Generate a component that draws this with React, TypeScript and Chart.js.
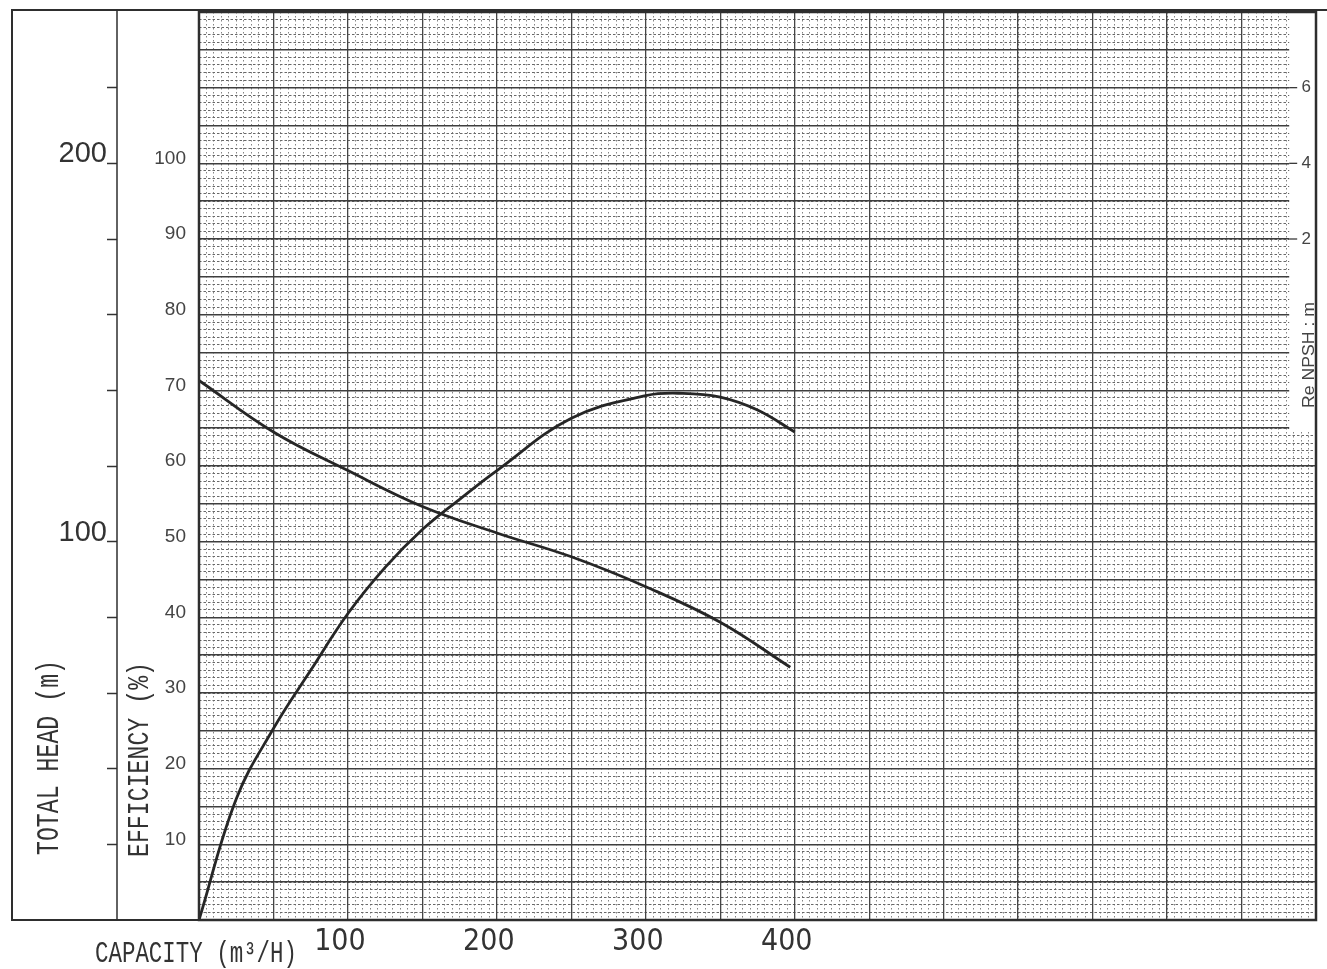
import React, { useEffect, useRef } from 'react';
import { Chart, registerables } from 'chart.js';

Chart.register(...registerables);

// ---- data ----
const headQ = [0, 50, 100, 150, 200, 250, 300, 350, 397];
const headM = [142.6, 129.0, 118.8, 109.3, 102.3, 96.0, 88.1, 78.7, 66.8];

const effQ = [0, 25, 50, 75, 100, 125, 150, 175, 200, 250, 300, 325, 350, 375, 400];
const effPct = [0, 16.0, 25.3, 33.0, 40.5, 46.6, 51.6, 55.6, 59.4, 66.3, 69.3, 69.6, 69.1, 67.4, 64.5];

const capacityTicks = [100, 200, 300, 400];
const headTicks = [20, 40, 60, 80, 100, 120, 140, 160, 180, 200, 220];
const headLabelled = [100, 200];
const effTicks = [10, 20, 30, 40, 50, 60, 70, 80, 90, 100];
const npshTicks = [2, 4, 6];

const capMax = 750;
const headMax = 240;
const effMax = 120;
const npshMin = -16;
const npshMax = 8;
const npshBoxFromQ = 732;
const npshBoxDownToHead = 129;

const headTitle = 'TOTAL HEAD (m)';
const effTitle = 'EFFICIENCY (%)';
const capTitle = 'CAPACITY (m\u00B3/H)';
const npshTitle = 'Re NPSH : m';

const NUM_FONT = "'Liberation Sans', Arial, sans-serif";
const NARROW_FONT = "'Liberation Sans Narrow', 'DejaVu Sans Condensed', 'Liberation Sans', sans-serif";
const TITLE_FONT = "'Liberation Mono', 'DejaVu Sans Mono', monospace";

const gridTicks = (max: number, step: number) => {
  const t: { value: number }[] = [];
  for (let v = 0; v <= max + 1e-9; v += step) t.push({ value: Math.round(v * 1000) / 1000 });
  return t;
};

const zeroPad = (s: any) => {
  s.paddingTop = 0;
  s.paddingBottom = 0;
  s.paddingLeft = 0;
  s.paddingRight = 0;
};

const gridScale = (
  axis: 'x' | 'y',
  position: string,
  max: number,
  step: number,
  color: string,
  width: number,
  dash: number[],
  z: number
) => ({
  type: 'linear',
  axis,
  position,
  min: 0,
  max,
  weight: 0,
  afterBuildTicks: (s: any) => {
    s.ticks = gridTicks(max, step);
  },
  afterFit: (s: any) => {
    if (axis === 'x') s.height = 0;
    else s.width = 0;
    zeroPad(s);
  },
  ticks: { display: false, autoSkip: false },
  grid: { color, lineWidth: width, drawTicks: false, z },
  border: { display: false, dash },
});

function stretchedText(
  ctx: CanvasRenderingContext2D,
  text: string,
  x: number,
  y: number,
  rot: number,
  font: string,
  targetWidth: number,
  targetCap: number
) {
  ctx.save();
  ctx.font = font;
  const w = ctx.measureText(text).width;
  const cap = ctx.measureText('H').actualBoundingBoxAscent || 1;
  ctx.translate(x, y);
  ctx.rotate(rot);
  ctx.scale(targetWidth / w, targetCap / cap);
  ctx.textAlign = 'left';
  ctx.textBaseline = 'alphabetic';
  ctx.fillText(text, 0, 0);
  ctx.restore();
}

const decor = {
  id: 'decor',
  beforeDatasetsDraw(chart: any) {
    const { ctx, chartArea: a, scales } = chart;
    const x0 = scales.x.getPixelForValue(npshBoxFromQ);
    const y1 = scales.yHead.getPixelForValue(npshBoxDownToHead);
    ctx.save();
    ctx.fillStyle = '#ffffff';
    ctx.fillRect(x0, a.top, a.right - x0, y1 - a.top);
    ctx.strokeStyle = '#3a3a3a';
    ctx.lineWidth = 1.3;
    npshTicks.forEach((v) => {
      const y = scales.npsh.getPixelForValue(v);
      ctx.beginPath();
      ctx.moveTo(x0, y);
      ctx.lineTo(x0 + 8, y);
      ctx.stroke();
    });
    ctx.restore();
  },
  afterDraw(chart: any) {
    const { ctx, chartArea: a } = chart;
    ctx.save();
    ctx.strokeStyle = '#2e2e2e';
    ctx.lineCap = 'square';
    // outer frame of the sheet
    ctx.lineWidth = 2;
    ctx.beginPath();
    ctx.moveTo(12, 10);
    ctx.lineTo(1327, 10);
    ctx.moveTo(12, 10);
    ctx.lineTo(12, a.bottom);
    ctx.lineTo(a.left, a.bottom);
    ctx.stroke();
    ctx.lineWidth = 1.5;
    ctx.beginPath();
    ctx.moveTo(117, 10);
    ctx.lineTo(117, a.bottom);
    ctx.stroke();
    // plot frame
    ctx.lineWidth = 2.5;
    ctx.strokeRect(a.left, a.top, a.right - a.left, a.bottom - a.top);

    ctx.fillStyle = '#333333';
    stretchedText(ctx, capTitle, 95, 962, 0, `22px ${TITLE_FONT}`, 202, 20);
    stretchedText(ctx, headTitle, 58, 855, -Math.PI / 2, `22px ${TITLE_FONT}`, 195, 21);
    stretchedText(ctx, effTitle, 148, 857, -Math.PI / 2, `22px ${TITLE_FONT}`, 195, 20);
    ctx.fillStyle = '#444444';
    stretchedText(ctx, npshTitle, 1314, 408, -Math.PI / 2, `17px ${NUM_FONT}`, 106, 12);
    ctx.restore();
  },
};

export default function App() {
  const ref = useRef<HTMLCanvasElement>(null);

  useEffect(() => {
    if (!ref.current) return;
    const chart = new Chart(ref.current, {
      type: 'line',
      data: {
        datasets: [
          {
            label: 'Total head',
            data: headQ.map((q, i) => ({ x: q, y: headM[i] })),
            xAxisID: 'x',
            yAxisID: 'yHead',
            borderColor: '#262626',
            borderWidth: 2.8,
            pointRadius: 0,
            tension: 0.4,
            fill: false,
          },
          {
            label: 'Efficiency',
            data: effQ.map((q, i) => ({ x: q, y: effPct[i] })),
            xAxisID: 'x',
            yAxisID: 'yEff',
            borderColor: '#262626',
            borderWidth: 2.8,
            pointRadius: 0,
            tension: 0.4,
            fill: false,
          },
        ],
      },
      options: {
        responsive: false,
        maintainAspectRatio: false,
        animation: false,
        events: [],
        layout: { padding: { top: 12, left: 0, right: 0, bottom: 0 } },
        plugins: {
          legend: { display: false },
          tooltip: { enabled: false },
          title: { display: false },
        },
        scales: {
          xMinor: gridScale('x', 'bottom', capMax, 5, '#858585', 1, [1.5, 2.5], -3),
          yMinor: gridScale('y', 'left', headMax, 2, '#686868', 1, [2.5, 2], -2),
          xMajor: gridScale('x', 'bottom', capMax, 50, '#454545', 1.3, [], -1),
          yMajor: gridScale('y', 'left', headMax, 10, '#3e3e3e', 1.4, [], -1),
          x: {
            type: 'linear',
            position: 'bottom',
            min: 0,
            max: capMax,
            weight: 1,
            afterBuildTicks: (s: any) => {
              s.ticks = capacityTicks.map((v) => ({ value: v }));
            },
            afterFit: (s: any) => {
              s.height = 49;
              zeroPad(s);
            },
            grid: { display: false, drawTicks: false },
            border: { display: false },
            ticks: {
              font: { family: NARROW_FONT, size: 30 },
              color: '#333',
              padding: 4,
              labelOffset: -8,
              maxRotation: 0,
              autoSkip: false,
            },
          },
          yEff: {
            type: 'linear',
            position: 'left',
            min: 0,
            max: effMax,
            weight: 1,
            afterBuildTicks: (s: any) => {
              s.ticks = effTicks.map((v) => ({ value: v }));
            },
            afterFit: (s: any) => {
              s.width = 82;
              zeroPad(s);
            },
            grid: { display: false, drawTicks: false },
            border: { display: false },
            ticks: {
              font: { family: NUM_FONT, size: 19 },
              color: '#444',
              padding: 13,
              labelOffset: -5,
              autoSkip: false,
            },
          },
          yHead: {
            type: 'linear',
            position: 'left',
            min: 0,
            max: headMax,
            weight: 2,
            afterBuildTicks: (s: any) => {
              s.ticks = headTicks.map((v) => ({ value: v }));
            },
            afterFit: (s: any) => {
              s.width = 117;
              zeroPad(s);
            },
            grid: {
              display: true,
              drawOnChartArea: false,
              drawTicks: true,
              tickLength: 10,
              tickColor: '#333',
              tickWidth: 1.5,
              color: '#333',
            },
            border: { display: false },
            ticks: {
              font: { family: NUM_FONT, size: 29 },
              color: '#333',
              padding: 0,
              labelOffset: -9,
              autoSkip: false,
              callback: (v: any) => (headLabelled.includes(Number(v)) ? String(v) : ''),
            },
          },
          npsh: {
            type: 'linear',
            position: 'right',
            min: npshMin,
            max: npshMax,
            weight: 1,
            afterBuildTicks: (s: any) => {
              s.ticks = npshTicks.map((v) => ({ value: v }));
            },
            afterFit: (s: any) => {
              s.width = 11;
              zeroPad(s);
            },
            grid: { display: false, drawTicks: false, drawOnChartArea: false },
            border: { display: false },
            ticks: {
              mirror: true,
              font: { family: NUM_FONT, size: 17 },
              color: '#444',
              padding: -5,
              z: 1,
              autoSkip: false,
            },
          },
        },
      } as any,
      plugins: [decor],
    } as any);
    return () => chart.destroy();
  }, []);

  return (
    <div
      style={{
        position: 'fixed',
        left: 0,
        top: 0,
        width: 1327,
        height: 969,
        background: '#ffffff',
        overflow: 'hidden',
      }}
    >
      <canvas ref={ref} width={1327} height={969} style={{ display: 'block', width: 1327, height: 969 }} />
    </div>
  );
}
